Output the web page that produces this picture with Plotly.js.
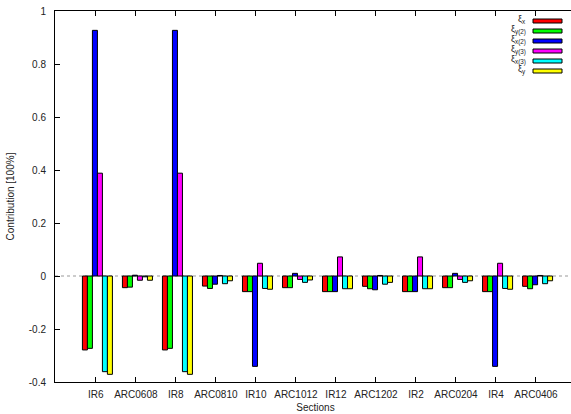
<!DOCTYPE html>
<html>
<head>
<meta charset="utf-8">
<script src="https://cdn.plot.ly/plotly-3.0.1.min.js"></script>
<style>
html,body{margin:0;padding:0;overflow:hidden;background:#fff;width:571px;height:414px;}
#chart{width:580px;height:414px;}
</style>
</head>
<body>
<div id="chart"></div>
<script>
// Categories (sections)
var categories = ['IR6','ARC0608','IR8','ARC0810','IR10','ARC1012','IR12','ARC1202','IR2','ARC0204','IR4','ARC0406'];

// Series values (contribution, fraction of 100%)
var xiX   = [-0.279, -0.044, -0.279, -0.038, -0.059, -0.044, -0.059, -0.039, -0.059, -0.044, -0.059, -0.039];
var xiY2  = [-0.273, -0.042, -0.273, -0.047, -0.059, -0.044, -0.059, -0.048, -0.059, -0.044, -0.059, -0.048];
var xiX2  = [ 0.927,  0.003,  0.927, -0.031, -0.341,  0.010, -0.059, -0.052, -0.059,  0.010, -0.341, -0.033];
var xiY3  = [ 0.388, -0.016,  0.388,  0.002,  0.048, -0.013,  0.072,  0.002,  0.072, -0.013,  0.048,  0.002];
var xiX3  = [-0.361, -0.003, -0.361, -0.029, -0.047, -0.024, -0.048, -0.031, -0.048, -0.024, -0.047, -0.029];
var xiY   = [-0.371, -0.016, -0.371, -0.018, -0.050, -0.015, -0.048, -0.024, -0.048, -0.018, -0.050, -0.018];

// Series labels (as drawn in the key)
var seriesNames = ['ξ<sub>x</sub>', 'ξ<sub>y(2)</sub>', 'ξ<sub>x(2)</sub>', 'ξ<sub>y(3)</sub>', 'ξ<sub>x(3)</sub>', 'ξ<sub>y</sub>'];

// Y tick labels
var yTickVals = [1, 0.8, 0.6, 0.4, 0.2, 0, -0.2, -0.4];
var yTickText = ['1', '0.8', '0.6', '0.4', '0.2', '0', '-0.2', '-0.4'];

var seriesValues = [xiX, xiY2, xiX2, xiY3, xiX3, xiY];
var colors = ['#ff0000', '#00ff00', '#0000ff', '#ff00ff', '#00ffff', '#ffff00'];

var barW = 0.125;
var startOff = -0.335;

var traces = seriesValues.map(function(vals, i){
  return {
    type: 'bar',
    x: categories,
    y: vals,
    name: seriesNames[i],
    width: barW,
    offset: startOff + i*barW,
    marker: {color: colors[i], line: {color: '#000', width: 1}},
    showlegend: false,
    hoverinfo: 'x+y+name'
  };
});

var fontFam = 'Liberation Sans, Arial, Helvetica, sans-serif';

// Key (drawn as paper shapes + annotations)
var shapes = [{
  type: 'line', xref: 'paper', x0: 0, x1: 1, yref: 'y', y0: 0, y1: 0,
  line: {color: '#999', width: 1, dash: 'dot'}, layer: 'below'
}];
var annotations = [];
var plotL = 55, plotW = 521, plotT = 11, plotH = 371;
function px2x(p){ return (p - plotL)/plotW; }
function py2y(p){ return 1 - (p - plotT)/plotH; }
for (var i = 0; i < 6; i++) {
  var cy = 21 + 10*i;
  shapes.push({
    type: 'rect', xref: 'paper', yref: 'paper',
    x0: px2x(533), x1: px2x(562), y0: py2y(cy+2), y1: py2y(cy-2),
    fillcolor: colors[i], line: {color: '#000', width: 1}
  });
  annotations.push({
    xref: 'paper', yref: 'paper', x: px2x(528), y: py2y(cy - 1),
    xanchor: 'right', yanchor: 'middle', showarrow: false,
    text: seriesNames[i], font: {family: fontFam, size: 9, color: '#222'}
  });
}

var layout = {
  width: 580, height: 414,
  margin: {l: plotL, r: 580 - plotL - plotW, t: plotT, b: 414 - plotT - plotH, pad: 0},
  paper_bgcolor: '#fff', plot_bgcolor: '#fff',
  font: {family: fontFam, size: 10, color: '#222'},
  barmode: 'overlay',
  xaxis: {
    type: 'category',
    range: [-1.02, 12],
    showline: true, linecolor: '#000', linewidth: 1, mirror: 'ticks',
    ticks: 'inside', ticklen: 5, tickcolor: '#000',
    showgrid: false, zeroline: false,
    ticklabelstandoff: 3,
    tickfont: {family: fontFam, size: 10, color: '#222'},
    title: {text: 'Sections', font: {family: fontFam, size: 10, color: '#222'}, standoff: 4}
  },
  yaxis: {
    range: [-0.4, 1],
    tickmode: 'array', tickvals: yTickVals, ticktext: yTickText,
    showline: true, linecolor: '#000', linewidth: 1, mirror: 'ticks',
    ticks: 'inside', ticklen: 5, tickcolor: '#000',
    showgrid: false, zeroline: false,
    ticklabelstandoff: 6,
    tickfont: {family: fontFam, size: 10, color: '#222'},
    title: {text: 'Contribution [100%]', font: {family: fontFam, size: 10, color: '#222'}, standoff: 12}
  },
  shapes: shapes,
  annotations: annotations
};

Plotly.newPlot('chart', traces, layout, {displayModeBar: false, staticPlot: true});
</script>
</body>
</html>
